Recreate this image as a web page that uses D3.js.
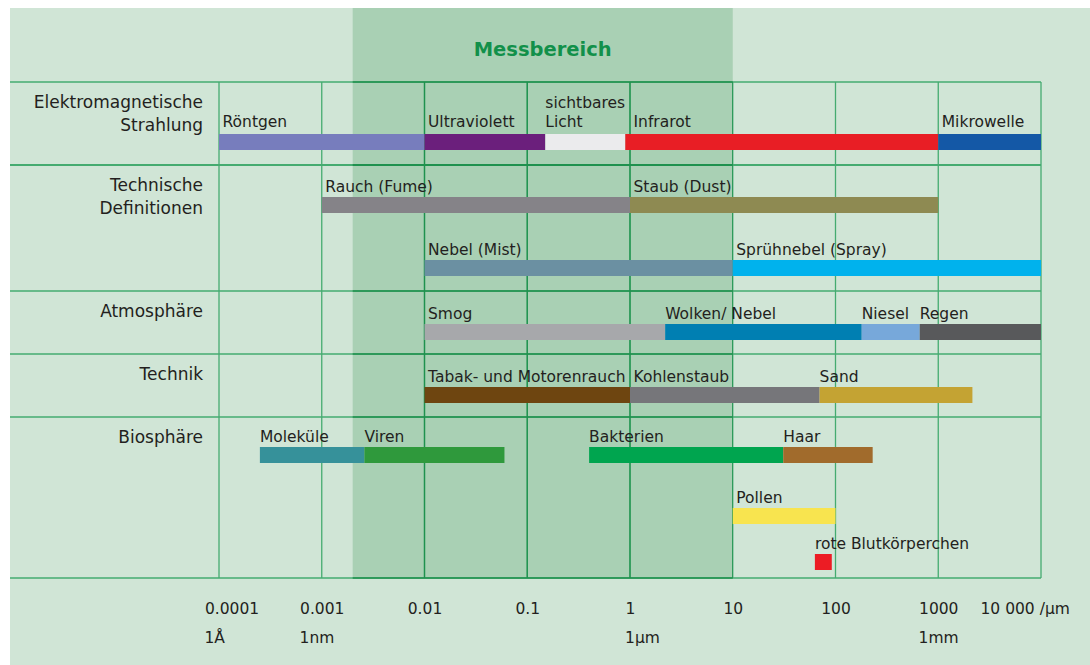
<!DOCTYPE html>
<html>
<head>
<meta charset="utf-8">
<script src="https://cdn.jsdelivr.net/npm/d3@7"></script>
<style>
  body { margin: 0; background: #fff; }
  text { font-family: "DejaVu Sans", sans-serif; fill: #231f20; }
</style>
</head>
<body>
<div id="chart"></div>
<script>
/* particle size ranges, log scale in µm */

// axis
const decades = [0.0001, 0.001, 0.01, 0.1, 1, 10, 100, 1000, 10000];
const tickLabels = ["0.0001", "0.001", "0.01", "0.1", "1", "10", "100", "1000", "10 000 /µm"];
const unitValues = [0.0001, 0.001, 1, 1000];
const unitNames = ["1Å", "1nm", "1µm", "1mm"];
const measureRange = [0.002, 10];

// row headers
const rowNames = [
	["Elektromagnetische", "Strahlung"],
	["Technische", "Definitionen"],
	["Atmosphäre"],
	["Technik"],
	["Biosphäre"]
];

// tracks: segment names and their boundaries (µm)
const emNames = ["Röntgen", "Ultraviolett", "sichtbares\nLicht", "Infrarot", "Mikrowelle"];
const emBounds = [0.0001, 0.01, 0.15, 0.9, 1000, 10000];
const fumeNames = ["Rauch (Fume)", "Staub (Dust)"];
const fumeBounds = [0.001, 1, 1000];
const mistNames = ["Nebel (Mist)", "Sprühnebel (Spray)"];
const mistBounds = [0.01, 10, 10000];
const atmoNames = ["Smog", "Wolken/ Nebel", "Niesel", "Regen"];
const atmoBounds = [0.01, 2.2, 180, 660, 10000];
const technikNames = ["Tabak- und Motorenrauch", "Kohlenstaub", "Sand"];
const technikBounds = [0.01, 1, 70, 2150];
const moleculeNames = ["Moleküle", "Viren"];
const moleculeBounds = [0.00025, 0.0026, 0.06];
const bacteriaNames = ["Bakterien", "Haar"];
const bacteriaBounds = [0.4, 31, 230];
const pollenNames = ["Pollen"];
const pollenBounds = [10, 100];
const bloodNames = ["rote Blutkörperchen"];
const bloodBounds = [63, 92];

// label sits at 1 µm instead of at the bar start
const labelAnchors = {"Infrarot": 1};

// colours
const colors = {
	"Röntgen": "#777dbd",
	"Ultraviolett": "#6b1f7c",
	"sichtbares\nLicht": "#ebebed",
	"Infrarot": "#e81e25",
	"Mikrowelle": "#1458a6",
	"Rauch (Fume)": "#858388",
	"Staub (Dust)": "#8e8a52",
	"Nebel (Mist)": "#6b90a2",
	"Sprühnebel (Spray)": "#00b2ed",
	"Smog": "#a7a8ab",
	"Wolken/ Nebel": "#007fb2",
	"Niesel": "#77a8da",
	"Regen": "#58595b",
	"Tabak- und Motorenrauch": "#6e4510",
	"Kohlenstaub": "#76767a",
	"Sand": "#c4a333",
	"Moleküle": "#36919a",
	"Viren": "#2f993c",
	"Bakterien": "#00a54f",
	"Haar": "#a16b2c",
	"Pollen": "#f8e44f",
	"rote Blutkörperchen": "#ec1c24"
};

const width = 1090, height = 665;
const rowTops = [82, 165, 291, 354, 417];
const chartBottom = 578;
const barH = 16;

const svg = d3.select("#chart").append("svg")
	.attr("width", width)
	.attr("height", height);

const x = d3.scaleLog()
	.domain([decades[0], decades[decades.length - 1]])
	.range([219, 1041]);

// track index -> bar top
const trackY = d3.scaleOrdinal()
	.domain(d3.range(8))
	.range([134, 197, 260, 324, 387, 447, 508, 554]);

// build segment table
const tracks = [
	[emNames, emBounds, 0],
	[fumeNames, fumeBounds, 1],
	[mistNames, mistBounds, 2],
	[atmoNames, atmoBounds, 3],
	[technikNames, technikBounds, 4],
	[moleculeNames, moleculeBounds, 5],
	[bacteriaNames, bacteriaBounds, 5],
	[pollenNames, pollenBounds, 6],
	[bloodNames, bloodBounds, 7]
];
const segments = [];
tracks.forEach(([names, bounds, track]) => {
	names.forEach((name, i) => segments.push({name: name, from: bounds[i], to: bounds[i + 1], track: track}));
});

const isDecade = v => Math.abs(Math.log10(v) - Math.round(Math.log10(v))) < 1e-9;

// background
svg.append("rect")
	.attr("x", 10).attr("y", 8)
	.attr("width", width - 10).attr("height", height - 8)
	.style("fill", "#d0e5d6");

// measuring range band
svg.append("rect")
	.attr("x", x(measureRange[0])).attr("y", 8)
	.attr("width", x(measureRange[1]) - x(measureRange[0]))
	.attr("height", chartBottom - 8)
	.style("fill", "#a9d0b4");

svg.append("text")
	.attr("x", (x(measureRange[0]) + x(measureRange[1])) / 2)
	.attr("y", 56)
	.attr("text-anchor", "middle")
	.style("font-size", "19.5px")
	.style("font-weight", "bold")
	.style("fill", "#12904a")
	.text("Messbereich");

// grid, lighter outside the band, darker inside
svg.append("clipPath").attr("id", "bandClip")
	.append("rect")
	.attr("x", x(measureRange[0])).attr("y", 0)
	.attr("width", x(measureRange[1]) - x(measureRange[0]))
	.attr("height", height);

function drawGrid(g, color){
	g.selectAll(".vline")
		.data(decades)
		.enter().append("line")
		.attr("x1", d => x(d)).attr("x2", d => x(d))
		.attr("y1", rowTops[0]).attr("y2", chartBottom)
		.style("stroke", color).style("stroke-width", 1.3);

	g.selectAll(".hline")
		.data(rowTops.concat([chartBottom]))
		.enter().append("line")
		.attr("x1", 10).attr("x2", x(decades[decades.length - 1]))
		.attr("y1", d => d).attr("y2", d => d)
		.style("stroke", color)
		.style("stroke-width", d => d === rowTops[1] ? 2.2 : 1.3);
}
drawGrid(svg.append("g"), "#45ab70");
drawGrid(svg.append("g").attr("clip-path", "url(#bandClip)"), "#1f914e");

// row headers
svg.append("g").selectAll("text")
	.data(rowNames)
	.enter().append("text")
	.attr("text-anchor", "end")
	.style("font-size", "17px")
	.each(function(lines, i){
		d3.select(this).selectAll("tspan")
			.data(lines)
			.enter().append("tspan")
			.attr("x", 203)
			.attr("y", (l, j) => rowTops[i] + 25.5 + j * 23.5)
			.text(l => l);
	});

// bars
svg.append("g").selectAll("rect")
	.data(segments)
	.enter().append("rect")
	.attr("x", d => x(d.from))
	.attr("y", d => trackY(d.track))
	.attr("width", d => x(d.to) - x(d.from))
	.attr("height", barH)
	.style("fill", d => colors[d.name]);

// bar labels
svg.append("g").selectAll("text")
	.data(segments)
	.enter().append("text")
	.style("font-size", "15.5px")
	.each(function(d){
		const anchor = labelAnchors[d.name] || d.from;
		const lx = x(anchor) + (isDecade(anchor) ? 3.5 : 0);
		const base = trackY(d.track) - (d.track === 0 ? 7.5 : 5.5);
		const lines = d.name.split("\n");
		d3.select(this).selectAll("tspan")
			.data(lines)
			.enter().append("tspan")
			.attr("x", lx)
			.attr("y", (l, j) => base - (lines.length - 1 - j) * 19)
			.text(l => l);
	});

// x axis
const axisG = svg.append("g")
	.attr("transform", "translate(0,614)")
	.call(d3.axisBottom(x)
		.tickValues(decades)
		.tickFormat((d, i) => tickLabels[i])
		.tickSize(0));
axisG.select(".domain").remove();
axisG.attr("font-family", null).attr("font-size", null);
axisG.selectAll("text")
	.attr("y", 0).attr("dy", 0)
	.style("font-size", "15.5px")
	.attr("dx", (d, i) => i === 0 ? 12.5 : 0)
	.attr("text-anchor", (d, i) => i === decades.length - 1 ? "start" : "middle")
	.filter((d, i) => i === decades.length - 1)
	.attr("dx", -61);

// unit labels, left aligned with the tick labels above
const unitX = unitValues.map(v => {
	const t = axisG.selectAll(".tick").filter(d => d === v).select("text").node();
	return x(v) + t.getBBox().x;
});
svg.append("g").selectAll("text")
	.data(unitNames)
	.enter().append("text")
	.attr("x", (d, i) => unitX[i])
	.attr("y", 643)
	.style("font-size", "15.5px")
	.text(d => d);
</script>
</body>
</html>
